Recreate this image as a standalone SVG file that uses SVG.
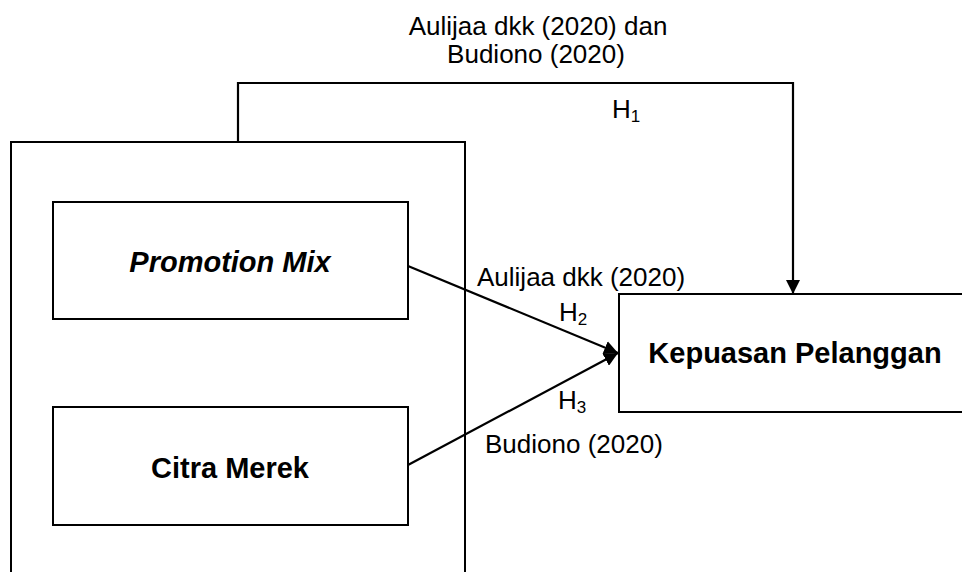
<svg xmlns="http://www.w3.org/2000/svg" width="962" height="572" viewBox="0 0 962 572">
<style>
.box{fill:#fff;stroke:#000;stroke-width:2}
.ln{fill:none;stroke:#000;stroke-width:2.2}
.t{font-family:"Liberation Sans",Arial,sans-serif;font-size:26px;fill:#000}
.b{font-family:"Liberation Sans",Arial,sans-serif;font-size:29px;font-weight:bold;fill:#000}
.sub{font-size:17px}
</style>
<defs>
<marker id="ah" markerWidth="14" markerHeight="14" viewBox="0 0 14 14" refX="14" refY="7" orient="auto" markerUnits="userSpaceOnUse">
<path d="M0,0 L14,7 L0,14 Z" fill="#000"/>
</marker>
</defs>
<g id="group-box">
<rect class="box" x="11" y="142" width="454" height="440"/>
</g>
<g id="node-promotion">
<rect class="box" x="53" y="202" width="355" height="117"/>
<text class="b" x="230" y="272" text-anchor="middle" font-style="italic">Promotion Mix</text>
</g>
<g id="node-citra">
<rect class="box" x="53" y="407" width="355" height="118"/>
<text class="b" x="230" y="478" text-anchor="middle">Citra Merek</text>
</g>
<g id="node-kepuasan">
<rect class="box" x="619" y="294" width="350" height="118"/>
<text class="b" x="795" y="363" text-anchor="middle">Kepuasan Pelanggan</text>
</g>
<g id="connectors">
<path class="ln" d="M238,142 V83 H793 V294" marker-end="url(#ah)"/>
<path class="ln" d="M408,266 L618,353" marker-end="url(#ah)"/>
<path class="ln" d="M408,465 L618,353" marker-end="url(#ah)"/>
</g>
<g id="labels">
<text class="t" x="538" y="35" text-anchor="middle">Aulijaa dkk (2020) dan</text>
<text class="t" x="536" y="63" text-anchor="middle">Budiono (2020)</text>
<text class="t" x="612" y="118">H<tspan class="sub" dy="4">1</tspan></text>
<text class="t" x="477" y="286">Aulijaa dkk (2020)</text>
<text class="t" x="559" y="321">H<tspan class="sub" dy="4">2</tspan></text>
<text class="t" x="558" y="409">H<tspan class="sub" dy="4">3</tspan></text>
<text class="t" x="485" y="453">Budiono (2020)</text>
</g>
</svg>
